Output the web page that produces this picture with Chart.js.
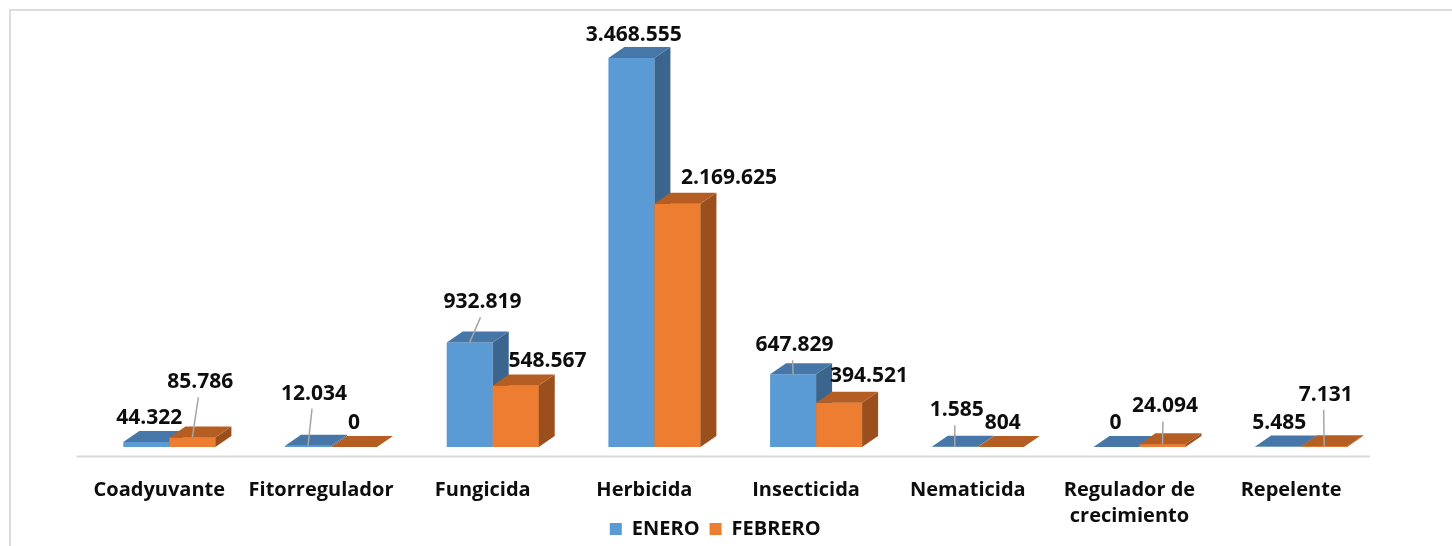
<!DOCTYPE html>
<html>
<head>
<meta charset="utf-8">
<script src="https://cdn.jsdelivr.net/npm/chart.js@4/dist/chart.umd.min.js"></script>
<style>
  body { margin: 0; background: #fff; }
  #wrap { position: relative; width: 1452px; height: 546px; overflow: hidden; }
  #frame { position: absolute; left: 9px; top: 9px; width: 1600px; height: 700px; border: 2px solid #dcdcdc; }
  canvas { position: absolute; left: 0; top: 0; }
</style>
</head>
<body>
<div id="wrap">
  <div id="frame"></div>
  <canvas id="chart" width="1452" height="546"></canvas>
</div>
<script>
const categories = ['Coadyuvante', 'Fitorregulador', 'Fungicida', 'Herbicida', 'Insecticida', 'Nematicida', ['Regulador de', 'crecimiento'], 'Repelente'];
const enero = [44322, 12034, 932819, 3468555, 647829, 1585, 0, 5485];
const febrero = [85786, 0, 548567, 2169625, 394521, 804, 24094, 7131];

// label placement, relative to the centre of each bar's top face
const eneroLabelPos = [[-5, -19.5], [-2, -47.5], [4.75, -35.5], [-5.6, -19], [-6.5, -24.6], [-6, -32], [-9, -19], [-7, -19]];
const febreroLabelPos = [[0, -50.4], [-8, -19], [23.75, -19.5], [43.5, -21.5], [22, -22.6], [-6, -19], [-5.5, -33.3], [-6.5, -47]];
const eneroLeader = [false, true, true, false, true, true, false, false];
const febreroLeader = [true, false, false, false, false, false, true, true];

const depthX = 16;
const depthY = 11;
const topColors = ['#4677a8', '#b55e24'];
const sideColors = ['#3c658d', '#9a4f1d'];

function fmt(v) {
    return String(v).replace(/\B(?=(\d{3})+(?!\d))/g, '.');
}

function poly(ctx, pts) {
    ctx.beginPath();
    ctx.moveTo(pts[0][0], pts[0][1]);
    for (let i = 1; i < pts.length; i++) ctx.lineTo(pts[i][0], pts[i][1]);
    ctx.closePath();
    ctx.fill();
}

const bars3d = {
    id: 'bars3d',
    afterLayout(chart) {
        // legend sits lower than the stacked layout would put it
        const lg = chart.legend;
        lg.top = chart.height - 37;
        lg.bottom = chart.height;
        lg.left -= 20;
        lg.right -= 20;
    },
    afterDatasetsDraw(chart) {
        const ctx = chart.ctx;
        const labelPos = [eneroLabelPos, febreroLabelPos];
        const leaders = [eneroLeader, febreroLeader];
        ctx.save();
        [0, 1].forEach(d => {
            chart.getDatasetMeta(d).data.forEach(bar => {
                // front face of the back bar must hide behind the next one
                if (d > 0) bar.draw(ctx);
                const p = bar.getProps(['x', 'y', 'base', 'width'], true);
                const l = p.x - p.width / 2, r = p.x + p.width / 2;
                ctx.fillStyle = sideColors[d];
                poly(ctx, [[r, p.y], [r + depthX, p.y - depthY], [r + depthX, p.base - depthY], [r, p.base]]);
                ctx.fillStyle = topColors[d];
                poly(ctx, [[l, p.y], [l + depthX, p.y - depthY], [r + depthX, p.y - depthY], [r, p.y]]);
            });
        });

        // data labels
        ctx.font = 'bold 21px "Open Sans"';
        ctx.textAlign = 'center';
        ctx.textBaseline = 'middle';
        [0, 1].forEach(d => {
            const values = chart.data.datasets[d].data;
            chart.getDatasetMeta(d).data.forEach((bar, i) => {
                const p = bar.getProps(['x', 'y'], true);
                const lx = p.x + depthX / 2 + labelPos[d][i][0];
                const ly = p.y - depthY / 2 + labelPos[d][i][1];
                if (leaders[d][i]) {
                    ctx.strokeStyle = '#a6a6a6';
                    ctx.lineWidth = 1.5;
                    ctx.beginPath();
                    ctx.moveTo(lx - 2, ly + 16);
                    ctx.lineTo(p.x, p.y);
                    ctx.stroke();
                }
                ctx.fillStyle = '#0d0d0d';
                ctx.fillText(fmt(values[i]), lx, ly + 1);
            });
        });

        // floor edge
        const area = chart.chartArea;
        ctx.strokeStyle = '#d9d9d9';
        ctx.lineWidth = 2;
        ctx.beginPath();
        ctx.moveTo(area.left - 12, area.bottom + 9.5);
        ctx.lineTo(area.right - 12, area.bottom + 9.5);
        ctx.stroke();
        ctx.restore();
    }
};

Chart.defaults.font.family = '"Open Sans"';

new Chart('chart', {
    type: 'bar',
    data: {
        labels: categories,
        datasets: [
            { label: 'ENERO', data: enero, backgroundColor: '#5b9bd5', borderWidth: 0 },
            { label: 'FEBRERO', data: febrero, backgroundColor: '#ed7d31', borderWidth: 0 }
        ]
    },
    options: {
        responsive: false,
        animation: false,
        devicePixelRatio: 1,
        categoryPercentage: 0.569,
        barPercentage: 1,
        layout: { padding: { left: 88.5, right: 70, top: 54.5, bottom: 0 } },
        scales: {
            x: {
                grid: { display: false },
                border: { display: false },
                ticks: {
                    color: '#0d0d0d',
                    font: { size: 20, weight: 'bold', lineHeight: 1.3 },
                    padding: 22,
                    labelOffset: -10,
                    maxRotation: 0,
                    autoSkip: false
                },
                afterFit: (s) => { s.height = 83; }
            },
            y: {
                display: false,
                min: 0,
                max: 3500000
            }
        },
        plugins: {
            legend: {
                position: 'bottom',
                maxHeight: 16,
                labels: {
                    color: '#0d0d0d',
                    font: { size: 20, weight: 'bold' },
                    boxWidth: 12,
                    boxHeight: 12,
                    padding: 10
                }
            },
            tooltip: { enabled: false }
        }
    },
    plugins: [bars3d]
});
</script>
</body>
</html>
